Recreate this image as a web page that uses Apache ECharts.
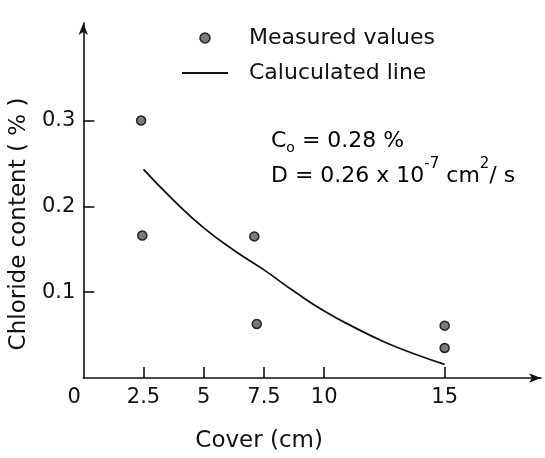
<!DOCTYPE html>
<html>
<head>
<meta charset="utf-8">
<script src="https://cdn.jsdelivr.net/npm/echarts@6/dist/echarts.min.js"></script>
<style>
html,body{margin:0;padding:0;background:#fff;}
#chart{width:545px;height:458px;}
</style>
</head>
<body>
<div id="chart"></div>
<script>
// Measured values
const measuredX = [2.4, 2.45, 7.1, 7.2, 15, 15];
const measuredY = [0.30, 0.166, 0.165, 0.063, 0.061, 0.035];
// Calculated line
const calcX = [2.5, 3.75, 5, 6.25, 7.5, 8.75, 10, 11.25, 12.5, 13.75, 15];
const calcY = [0.243, 0.207, 0.175, 0.149, 0.126, 0.101, 0.078, 0.059, 0.042, 0.028, 0.016];
// Tick labels
const xTickLabels = [0, 2.5, 5, 7.5, 10, 15];
const xTicks = [2.5, 5, 7.5, 10, 15];
const yTicks = [0.1, 0.2, 0.3];

const FONT = 'DejaVu Sans';
const INK = '#111';

const chart = echarts.init(document.getElementById('chart'), null, {renderer: 'canvas'});

const option = {
  backgroundColor: '#fff',
  animation: false,
  textStyle: {fontFamily: FONT, color: INK},
  grid: {left: 80, top: 23, right: 4, bottom: 68, containLabel: false},
  legend: {
    orient: 'vertical',
    left: 176,
    top: 22,
    itemWidth: 46,
    itemHeight: 10,
    itemGap: 13,
    textStyle: {fontFamily: FONT, fontSize: 22, color: INK, padding: [0, 0, 0, 16]},
    data: [
      {name: 'Measured values', icon: 'circle', itemStyle: {color: '#7a7a7a', borderColor: '#222', borderWidth: 1.5}},
      {name: 'Caluculated line', itemStyle: {opacity: 0}}
    ]
  },
  xAxis: {
    type: 'value',
    min: 0,
    max: 19.0,
    name: 'Cover (cm)',
    nameLocation: 'middle',
    nameGap: 52,
    nameTextStyle: {fontFamily: FONT, fontSize: 23, color: INK, padding: [0, 106, 0, 0]},
    splitLine: {show: false},
    axisLine: {show: true, onZero: false, symbol: ['none', 'arrow'], symbolSize: [7, 12], lineStyle: {color: INK, width: 1.6}},
    axisTick: {show: true, inside: true, length: 11, customValues: xTicks, lineStyle: {color: INK, width: 1.6}},
    axisLabel: {
      show: true,
      customValues: xTickLabels,
      showMinLabel: true,
      margin: 9,
      fontFamily: FONT,
      fontSize: 21,
      color: INK,
      formatter: function (v) { return v === 0 ? '{z|0}' : String(v); },
      rich: {z: {fontFamily: FONT, fontSize: 21, color: INK, padding: [0, 18, 0, 0]}}
    }
  },
  yAxis: {
    type: 'value',
    min: 0,
    max: 0.4137,
    name: 'Chloride content ( % )',
    nameLocation: 'middle',
    nameGap: 42,
    nameRotate: 90,
    nameTextStyle: {fontFamily: FONT, fontSize: 23, color: INK, padding: [0, 47, 0, 0]},
    splitLine: {show: false},
    axisLine: {show: true, onZero: false, symbol: ['none', 'arrow'], symbolSize: [7, 12], lineStyle: {color: INK, width: 1.6}},
    axisTick: {show: true, inside: true, length: 11, customValues: yTicks, lineStyle: {color: INK, width: 1.6}},
    axisLabel: {
      show: true,
      customValues: yTicks,
      margin: 8,
      fontFamily: FONT,
      fontSize: 21,
      color: INK,
      formatter: function (v) { return v.toFixed(1); }
    }
  },
  series: [
    {
      name: 'Measured values',
      type: 'scatter',
      symbol: 'circle',
      symbolSize: 9,
      itemStyle: {color: '#7a7a7a', borderColor: '#222', borderWidth: 1.5, opacity: 1},
      data: measuredX.map((x, i) => [x, measuredY[i]]),
      z: 3
    },
    {
      name: 'Caluculated line',
      type: 'line',
      symbol: 'none',
      smooth: 0.5,
      lineStyle: {color: INK, width: 1.8},
      itemStyle: {color: INK},
      data: calcX.map((x, i) => [x, calcY[i]]),
      z: 2
    }
  ],
  graphic: [
    {
      type: 'text',
      left: 271,
      top: 130,
      style: {
        text: '{a|C}{b|o}{a| = 0.28 %}',
        rich: {
          a: {fontFamily: FONT, fontSize: 22, color: INK, lineHeight: 28, verticalAlign: 'middle'},
          b: {fontFamily: FONT, fontSize: 14, color: INK, lineHeight: 28, verticalAlign: 'bottom'}
        }
      }
    },
    {
      type: 'text',
      left: 271,
      top: 157,
      style: {
        text: '{a|D = 0.26 x 10}{s|-7}{a| cm}{s|2}{a|/ s}',
        rich: {
          a: {fontFamily: FONT, fontSize: 22, color: INK, lineHeight: 30, verticalAlign: 'bottom'},
          s: {fontFamily: FONT, fontSize: 15, color: INK, lineHeight: 30, verticalAlign: 'top'}
        }
      }
    }
  ]
};

chart.setOption(option);
</script>
</body>
</html>
